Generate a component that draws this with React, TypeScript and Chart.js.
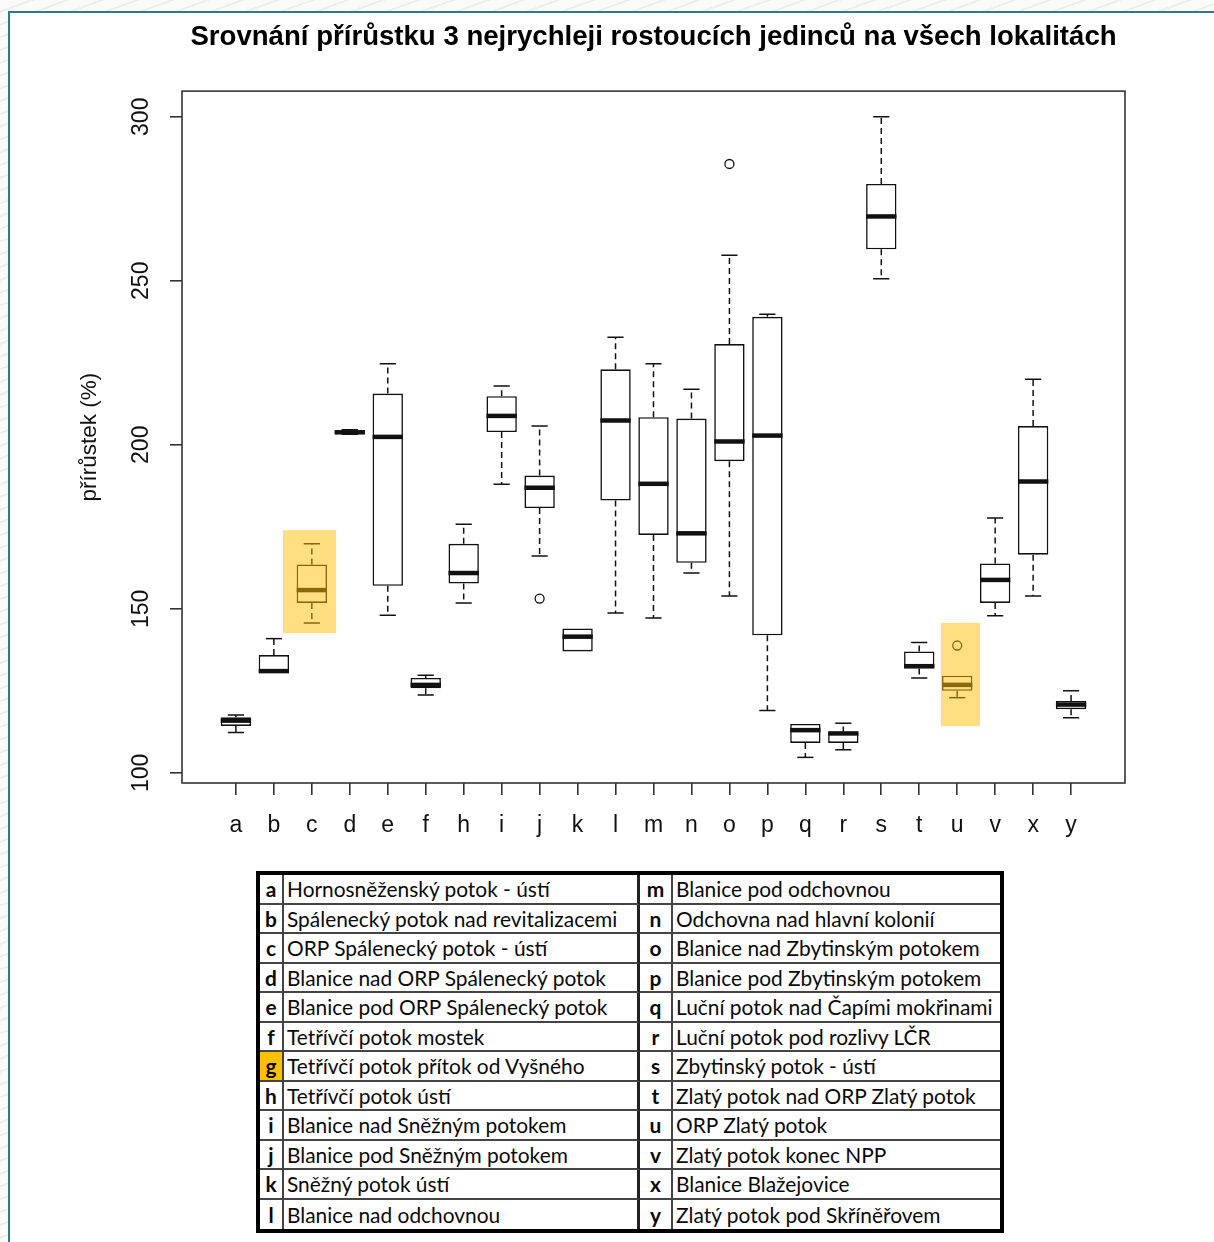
import React, { useEffect, useRef } from 'react';
import { Chart, registerables } from 'chart.js';

Chart.register(...registerables);

// ---------- data ----------
const categories = ['a', 'b', 'c', 'd', 'e', 'f', 'h', 'i', 'j', 'k', 'l', 'm', 'n', 'o', 'p', 'q', 'r', 's', 't', 'u', 'v', 'x', 'y'];
const whiskerLow = [112.3, 130.7, 145.7, 203.2, 148.0, 123.7, 151.8, 188.0, 166.1, 137.0, 148.7, 147.2, 160.9, 153.9, 119.0, 104.7, 107.0, 250.6, 128.9, 122.9, 147.9, 153.9, 116.8];
const quartile1 = [114.3, 130.7, 151.8, 203.4, 157.0, 125.8, 157.7, 203.9, 180.7, 137.0, 183.0, 172.5, 164.0, 195.0, 141.9, 109.1, 109.1, 259.6, 131.8, 125.0, 151.8, 166.5, 119.4];
const medians = [115.9, 131.0, 155.7, 203.8, 202.4, 126.8, 160.9, 208.8, 186.9, 141.5, 207.4, 188.1, 173.0, 201.0, 202.8, 113.0, 112.0, 269.6, 132.5, 126.8, 158.8, 188.8, 120.8];
const quartile3 = [116.9, 135.9, 163.5, 204.3, 215.6, 128.9, 169.8, 214.8, 190.6, 144.0, 223.0, 208.4, 208.0, 230.7, 239.0, 114.9, 112.3, 279.5, 137.0, 129.6, 163.8, 205.7, 121.9];
const whiskerHigh = [117.6, 140.9, 169.8, 204.6, 224.7, 129.7, 175.8, 217.9, 205.7, 144.0, 232.8, 224.7, 216.9, 257.8, 239.8, 114.9, 115.1, 300.0, 139.7, 129.6, 177.7, 220.0, 125.0];
const outlierCategories = ['j', 'o', 'u'];
const outlierValues = [153.1, 285.6, 138.8];
const yTickValues = [100, 150, 200, 250, 300];

// highlighted regions (data units)
const highlightXFrom = [2.24, 19.57];
const highlightXTo = [3.64, 20.6];
const highlightYFrom = [142.6, 114.2];
const highlightYTo = [174.0, 145.7];

const titleText = 'Srovnání přírůstku 3 nejrychleji rostoucích jedinců na všech lokalitách';
const yAxisTitle = 'přírůstek (%)';

const legendLettersLeft = ['a', 'b', 'c', 'd', 'e', 'f', 'g', 'h', 'i', 'j', 'k', 'l'];
const legendNamesLeft = [
  'Hornosněženský potok - ústí',
  'Spálenecký potok nad revitalizacemi',
  'ORP Spálenecký potok - ústí',
  'Blanice nad ORP Spálenecký potok',
  'Blanice pod ORP Spálenecký potok',
  'Tetřívčí potok mostek',
  'Tetřívčí potok přítok od Vyšného',
  'Tetřívčí potok ústí',
  'Blanice nad Sněžným potokem',
  'Blanice pod Sněžným potokem',
  'Sněžný potok ústí',
  'Blanice nad odchovnou',
];
const legendLettersRight = ['m', 'n', 'o', 'p', 'q', 'r', 's', 't', 'u', 'v', 'x', 'y'];
const legendNamesRight = [
  'Blanice pod odchovnou',
  'Odchovna nad hlavní kolonií',
  'Blanice nad Zbytinským potokem',
  'Blanice pod Zbytinským potokem',
  'Luční potok nad Čapími mokřinami',
  'Luční potok pod rozlivy LČR',
  'Zbytinský potok - ústí',
  'Zlatý potok nad ORP Zlatý potok',
  'ORP Zlatý potok',
  'Zlatý potok konec NPP',
  'Blanice Blažejovice',
  'Zlatý potok pod Skříněřovem',
];
const highlightedLegendLetter = 'g';

// ---------- styling ----------
const FONT = "'Liberation Sans', Arial, sans-serif";
const INK = '#111';
const AXIS = '#333';
const HIGHLIGHT = 'rgba(255, 192, 0, 0.5)';

const boxPlotPlugin = {
  id: 'boxPlotDecor',
  afterDatasetsDraw(chart: any) {
    const { ctx, chartArea, scales } = chart;
    const xs = scales.x;
    const ys = scales.y;
    const meta = chart.getDatasetMeta(0);
    ctx.save();
    categories.forEach((_, i) => {
      const bar = meta.data[i];
      const cx = xs.getPixelForValue(i + 1);
      const half = bar.width / 2;
      const capHalf = half / 2 + 0.5;
      const pq1 = ys.getPixelForValue(quartile1[i]);
      const pq3 = ys.getPixelForValue(quartile3[i]);
      const plo = ys.getPixelForValue(whiskerLow[i]);
      const phi = ys.getPixelForValue(whiskerHigh[i]);
      const pmed = ys.getPixelForValue(medians[i]);
      ctx.strokeStyle = INK;
      ctx.lineWidth = 1.5;
      ctx.lineCap = 'butt';
      ctx.setLineDash([6, 4]);
      ctx.beginPath();
      if (whiskerHigh[i] > quartile3[i]) {
        ctx.moveTo(cx, pq3);
        ctx.lineTo(cx, phi);
      }
      if (whiskerLow[i] < quartile1[i]) {
        ctx.moveTo(cx, pq1);
        ctx.lineTo(cx, plo);
      }
      ctx.stroke();
      ctx.setLineDash([]);
      ctx.beginPath();
      if (whiskerHigh[i] > quartile3[i]) {
        ctx.moveTo(cx - capHalf, phi);
        ctx.lineTo(cx + capHalf, phi);
      }
      if (whiskerLow[i] < quartile1[i]) {
        ctx.moveTo(cx - capHalf, plo);
        ctx.lineTo(cx + capHalf, plo);
      }
      ctx.stroke();
      ctx.lineWidth = 4.5;
      ctx.beginPath();
      ctx.moveTo(cx - half, pmed);
      ctx.lineTo(cx + half, pmed);
      ctx.stroke();
    });
    // plot frame
    ctx.lineWidth = 1.6;
    ctx.strokeStyle = AXIS;
    ctx.strokeRect(chartArea.left, chartArea.top, chartArea.right - chartArea.left, chartArea.bottom - chartArea.top);
    // highlight overlays
    ctx.fillStyle = HIGHLIGHT;
    highlightXFrom.forEach((x0, k) => {
      const px0 = xs.getPixelForValue(x0);
      const px1 = xs.getPixelForValue(highlightXTo[k]);
      const py0 = ys.getPixelForValue(highlightYTo[k]);
      const py1 = ys.getPixelForValue(highlightYFrom[k]);
      ctx.fillRect(px0, py0, px1 - px0, py1 - py0);
    });
    ctx.restore();
  },
};

export default function App() {
  const canvasRef = useRef<HTMLCanvasElement | null>(null);

  useEffect(() => {
    const canvas = canvasRef.current;
    if (!canvas) return;
    const n = categories.length;
    const allLow = Math.min(...whiskerLow, ...outlierValues);
    const allHigh = Math.max(...whiskerHigh, ...outlierValues);
    const span = allHigh - allLow;

    const tickFont = { family: FONT, size: 23, lineHeight: 1.2 };
    const gridOpts = {
      drawOnChartArea: false,
      drawTicks: true,
      tickLength: 12,
      color: AXIS,
      lineWidth: 1.6,
      offset: false,
    };

    const chart = new Chart(canvas, {
      type: 'bar',
      data: {
        datasets: [
          {
            type: 'bar',
            data: categories.map((_, i) => ({ x: i + 1, y: [quartile1[i], quartile3[i]] })) as any,
            backgroundColor: '#ffffff',
            borderColor: INK,
            borderWidth: 1.6,
            borderSkipped: false,
            barPercentage: 0.8,
            categoryPercentage: 1,
          } as any,
          {
            type: 'scatter',
            data: outlierCategories.map((c, i) => ({ x: categories.indexOf(c) + 1, y: outlierValues[i] })),
            pointStyle: 'circle',
            pointRadius: 4.5,
            pointBorderWidth: 1.3,
            pointBorderColor: INK,
            pointBackgroundColor: 'rgba(0,0,0,0)',
            showLine: false,
          } as any,
        ],
      },
      options: {
        responsive: false,
        devicePixelRatio: 1,
        animation: false,
        events: [],
        layout: { padding: { left: 0, right: 89, top: 0, bottom: 0 } },
        plugins: {
          legend: { display: false },
          tooltip: { enabled: false },
          title: {
            display: true,
            text: titleText,
            fullSize: false,
            color: '#000',
            font: { family: FONT, size: 27.6, weight: 'bold', lineHeight: 1.2 },
            padding: { top: 21, bottom: 37 },
          },
        },
        scales: {
          x: {
            type: 'linear',
            min: 0.5 - 0.04 * n,
            max: n + 0.5 + 0.04 * n,
            offset: false,
            afterBuildTicks: (s: any) => {
              s.ticks = categories.map((_, i) => ({ value: i + 1 }));
            },
            afterFit: (s: any) => {
              s.height = 77;
            },
            grid: gridOpts,
            border: { display: false },
            ticks: {
              autoSkip: false,
              minRotation: 0,
              maxRotation: 0,
              padding: 17,
              color: INK,
              font: tickFont,
              callback: (_v: any, idx: number) => categories[idx],
            },
          },
          y: {
            type: 'linear',
            min: allLow - 0.04 * span,
            max: allHigh + 0.04 * span,
            afterBuildTicks: (s: any) => {
              s.ticks = yTickValues.map((v) => ({ value: v }));
            },
            afterFit: (s: any) => {
              s.width = 182;
            },
            grid: gridOpts,
            border: { display: false },
            ticks: {
              minRotation: 90,
              maxRotation: 90,
              crossAlign: 'center',
              padding: 9,
              color: INK,
              font: tickFont,
              callback: (v: any) => String(v),
            },
            title: {
              display: true,
              text: yAxisTitle,
              color: INK,
              font: { family: FONT, size: 22.5, lineHeight: 1.2 },
              padding: { top: 76, bottom: 0 },
            },
          },
        },
      } as any,
      plugins: [boxPlotPlugin],
    });
    return () => chart.destroy();
  }, []);

  const frameColor = '#2a7c8c';
  const cellLine = '2px solid #444';

  const rows = legendLettersLeft.map((l, r) => [l, legendNamesLeft[r], legendLettersRight[r], legendNamesRight[r]]);

  return (
    <div
      style={{
        position: 'absolute',
        left: 0,
        top: 0,
        width: 1214,
        height: 1242,
        overflow: 'hidden',
        background: 'repeating-linear-gradient(160deg, #fafaf8 0px, #fafaf8 10px, #efeeea 10px, #efeeea 12px)',
      }}
    >
      <div
        style={{
          position: 'absolute',
          left: 8,
          top: 11,
          width: 1214 - 8,
          height: 1242 - 11,
          boxSizing: 'border-box',
          background: '#ffffff',
          borderLeft: `2px solid ${frameColor}`,
          borderTop: `2px solid ${frameColor}`,
        }}
      />
      <canvas
        ref={canvasRef}
        width={1214}
        height={860}
        style={{ position: 'absolute', left: 0, top: 0, width: 1214, height: 860 }}
      />
      <div
        style={{
          position: 'absolute',
          left: 256,
          top: 871,
          width: 748,
          height: 362,
          boxSizing: 'border-box',
          border: '4px solid #000',
          display: 'grid',
          gridTemplateColumns: '24px 356px 33px 1fr',
          gridTemplateRows: 'repeat(12, 1fr)',
          fontFamily: 'Lato, sans-serif',
          fontSize: 20.9,
          color: '#0a0a0a',
          background: '#fff',
        }}
      >
        {rows.map((row, r) =>
          row.map((txt, c) => {
            const isLetter = c === 0 || c === 2;
            const borderRight = c === 3 ? 'none' : c === 1 ? '3px solid #222' : cellLine;
            return (
              <div
                key={`${r}-${c}`}
                style={{
                  boxSizing: 'border-box',
                  borderBottom: r < rows.length - 1 ? cellLine : 'none',
                  borderRight,
                  display: 'flex',
                  alignItems: 'center',
                  justifyContent: isLetter ? 'center' : 'flex-start',
                  paddingLeft: isLetter ? 0 : 3,
                  fontWeight: isLetter ? 700 : 400,
                  whiteSpace: 'nowrap',
                  overflow: 'hidden',
                  background: isLetter && txt === highlightedLegendLetter ? '#FFC000' : 'transparent',
                }}
              >
                {txt}
              </div>
            );
          })
        )}
      </div>
    </div>
  );
}
